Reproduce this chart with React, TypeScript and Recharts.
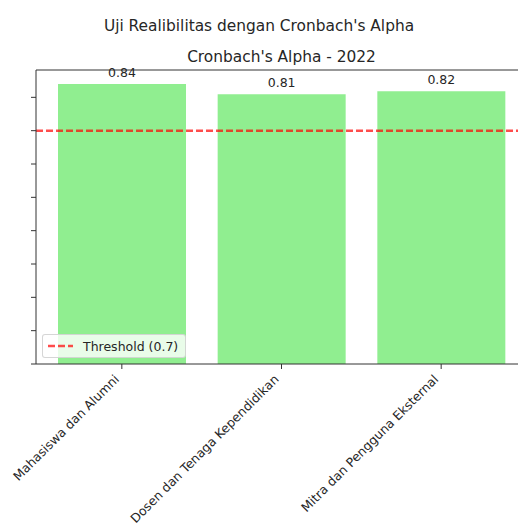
import React from "react";
import { BarChart, Bar, XAxis, YAxis, ReferenceLine, LabelList, Legend } from "recharts";

const CATEGORIES = [
  "Mahasiswa dan Alumni",
  "Dosen dan Tenaga Kependidikan",
  "Mitra dan Pengguna Eksternal",
];
const ALPHA_2022 = [0.84, 0.809, 0.818];
const THRESHOLD = 0.7;
const Y_TICKS = [0, 0.1, 0.2, 0.3, 0.4, 0.5, 0.6, 0.7, 0.8];
const Y_MAX = 0.882;
const SUPTITLE = "Uji Realibilitas dengan Cronbach's Alpha";
const TITLE = "Cronbach's Alpha - 2022";
const LEGEND_LABEL = "Threshold (0.7)";

const data = CATEGORIES.map((name, i) => ({ name, alpha: ALPHA_2022[i] }));

const TEXT = "#262626";
const AXIS = "#333333";
const FONT = "'DejaVu Sans', sans-serif";

function XTick(props: any) {
  const { x, y, payload } = props;
  const ax = x - 2;
  const ay = y + 9;
  return (
    <text
      x={ax}
      y={ay}
      transform={`rotate(-45, ${ax}, ${ay})`}
      textAnchor="end"
      fontSize={12.5}
      fill={TEXT}
      fontFamily={FONT}
    >
      {payload.value}
    </text>
  );
}

function EmptyTick() {
  return <g />;
}

function LegendBox() {
  return (
    <div
      style={{
        boxSizing: "border-box",
        width: 144,
        height: 24,
        border: "1px solid rgba(204,204,204,0.8)",
        borderRadius: 3,
        background: "rgba(255,255,255,0.8)",
        display: "flex",
        alignItems: "center",
        paddingLeft: 5,
        fontFamily: FONT,
        fontSize: 12.5,
        color: TEXT,
      }}
    >
      <svg width={25} height={6} style={{ display: "block" }}>
        <line x1={0} y1={3} x2={25} y2={3} stroke="red" strokeOpacity={0.7} strokeWidth={2.5} strokeDasharray="7 3" />
      </svg>
      <span style={{ marginLeft: 10, whiteSpace: "nowrap" }}>{LEGEND_LABEL}</span>
    </div>
  );
}

export default function App() {
  return (
    <div style={{ position: "relative", width: 545, height: 525, fontFamily: FONT }}>
      <style>{"html,body{margin:0;padding:0;overflow:hidden;background:#fff;}"}</style>
      <BarChart
        width={545}
        height={525}
        data={data}
        margin={{ top: 70, right: 18, left: 0, bottom: 0 }}
      >
        <XAxis
          dataKey="name"
          type="category"
          interval={0}
          height={161}
          padding={{ left: 6, right: 6 }}
          tick={<XTick />}
          tickSize={5}
          axisLine={{ stroke: AXIS, strokeWidth: 1 }}
          tickLine={{ stroke: AXIS, strokeWidth: 1 }}
        />
        <YAxis
          type="number"
          width={36}
          domain={[0, Y_MAX]}
          ticks={Y_TICKS}
          tick={<EmptyTick />}
          tickSize={5}
          axisLine={{ stroke: AXIS, strokeWidth: 1 }}
          tickLine={{ stroke: AXIS, strokeWidth: 1 }}
        />
        <Bar dataKey="alpha" fill="#90ee90" barSize={128} isAnimationActive={false}>
          <LabelList
            dataKey="alpha"
            position="top"
            offset={7}
            fill={TEXT}
            fontSize={12.5}
            fontFamily={FONT}
            formatter={(v: any) => Number(v).toFixed(2)}
          />
        </Bar>
        <ReferenceLine
          y={THRESHOLD}
          stroke="red"
          strokeOpacity={0.7}
          strokeWidth={2.5}
          strokeDasharray="7 3"
        />
        <ReferenceLine y={Y_MAX} stroke={AXIS} strokeWidth={1} />
        <Legend
          layout="horizontal"
          verticalAlign="middle"
          align="center"
          content={() => <LegendBox />}
          wrapperStyle={{ left: 42, top: 334, width: 144, height: 24 }}
        />
      </BarChart>
      <div
        style={{
          position: "absolute",
          left: 0,
          width: 518,
          top: 19,
          textAlign: "center",
          fontSize: 15.4,
          lineHeight: "15px",
          color: TEXT,
          whiteSpace: "nowrap",
        }}
      >
        {SUPTITLE}
      </div>
      <div
        style={{
          position: "absolute",
          left: 36,
          width: 491,
          top: 50,
          textAlign: "center",
          fontSize: 15.4,
          lineHeight: "15px",
          color: TEXT,
          whiteSpace: "nowrap",
        }}
      >
        {TITLE}
      </div>
    </div>
  );
}
